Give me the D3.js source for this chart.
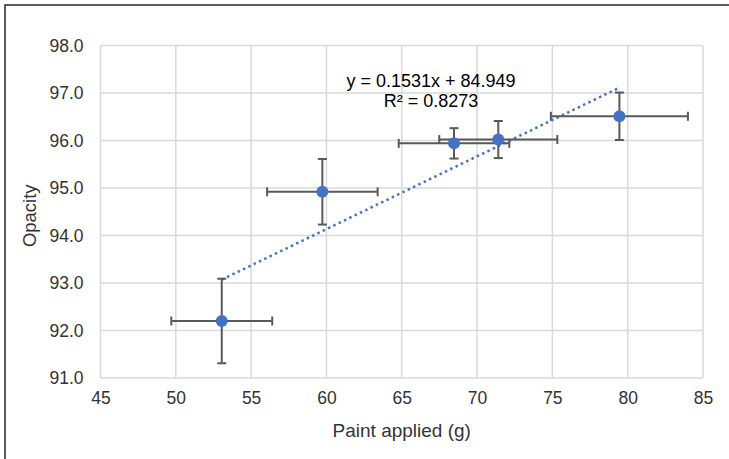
<!DOCTYPE html>
<html><head><meta charset="utf-8">
<script src="https://cdn.jsdelivr.net/npm/d3@7"></script>
<style>
html,body{margin:0;padding:0;background:#fff;}
svg{display:block;font-family:"Liberation Sans",Arial,sans-serif;}
</style></head>
<body>
<svg id="chart" width="729" height="459"></svg>
<script>
// Data
const paint = [53.05, 59.73, 68.47, 71.41, 79.45];     // x: Paint applied (g)
const opacity = [92.2, 94.92, 95.94, 96.02, 96.51];     // y: Opacity
const xErr = [3.35, 3.67, 3.67, 3.92, 4.55];
const yErr = [0.89, 0.69, 0.32, 0.39, 0.50];
const xTicks = [45, 50, 55, 60, 65, 70, 75, 80, 85];
const yTicks = [91, 92, 93, 94, 95, 96, 97, 98];
const trendSlope = 0.1531, trendIntercept = 84.949, rSquared = 0.8273;

const svg = d3.select("#chart");
const m = {left: 100.5, right: 729 - 703, top: 45.5, bottom: 459 - 378};
const W = 729, H = 459;
const textCol = "#333333";

// outer frame (left and top edges visible)
svg.append("rect").attr("x", 5).attr("y", 5).attr("width", 900).attr("height", 900)
  .attr("fill", "none").attr("stroke", "#262626").attr("stroke-width", 1.5);

const x = d3.scaleLinear().domain([45, 85]).range([m.left, W - m.right]);
const y = d3.scaleLinear().domain([91, 98]).range([H - m.bottom, m.top]);

const grid = svg.append("g");
grid.selectAll("line.v").data(xTicks).join("line")
  .attr("x1", d => x(d)).attr("x2", d => x(d))
  .attr("y1", y(91)).attr("y2", y(98))
  .attr("stroke", "#d9d9d9").attr("stroke-width", 1.5);
grid.selectAll("line.h").data(yTicks).join("line")
  .attr("y1", d => y(d)).attr("y2", d => y(d))
  .attr("x1", x(45)).attr("x2", x(85))
  .attr("stroke", "#d9d9d9").attr("stroke-width", 1.5);

// axes (labels only)
const xAxis = svg.append("g").attr("transform", `translate(0,${y(91)})`)
  .call(d3.axisBottom(x).tickValues(xTicks).tickSize(0).tickPadding(14).tickFormat(d3.format("d")));
xAxis.select(".domain").remove();
xAxis.selectAll("text").attr("font-size", 17.5).attr("fill", textCol)
  .attr("font-family", "'Liberation Sans',Arial,sans-serif");

const yAxis = svg.append("g").attr("transform", `translate(${x(45)},0)`)
  .call(d3.axisLeft(y).tickValues(yTicks).tickSize(0).tickPadding(17).tickFormat(d3.format(".1f")));
yAxis.select(".domain").remove();
yAxis.selectAll("text").attr("font-size", 17.5).attr("fill", textCol)
  .attr("font-family", "'Liberation Sans',Arial,sans-serif");

// axis titles
svg.append("text").attr("x", (x(45) + x(85)) / 2).attr("y", 437)
  .attr("text-anchor", "middle").attr("font-size", 19).attr("fill", textCol)
  .text("Paint applied (g)");
svg.append("text").attr("transform", `translate(36,${(y(91) + y(98)) / 2 + 4}) rotate(-90)`)
  .attr("text-anchor", "middle").attr("font-size", 18.5).attr("fill", textCol)
  .text("Opacity");

// trendline
const xmin = d3.min(paint), xmax = d3.max(paint);
svg.append("line")
  .attr("x1", x(xmin)).attr("y1", y(trendSlope * xmin + trendIntercept))
  .attr("x2", x(xmax)).attr("y2", y(trendSlope * xmax + trendIntercept))
  .attr("stroke", "#4472c4").attr("stroke-width", 2.5)
  .attr("stroke-dasharray", "2.5,3.4");

// error bars
const pts = paint.map((p, i) => ({x: p, y: opacity[i], ex: xErr[i], ey: yErr[i]}));
const eb = svg.append("g").attr("stroke", "#595959").attr("stroke-width", 2);
const cap = 4.5;
pts.forEach(d => {
  eb.append("line").attr("x1", x(d.x - d.ex)).attr("x2", x(d.x + d.ex)).attr("y1", y(d.y)).attr("y2", y(d.y));
  eb.append("line").attr("x1", x(d.x - d.ex)).attr("x2", x(d.x - d.ex)).attr("y1", y(d.y) - cap).attr("y2", y(d.y) + cap);
  eb.append("line").attr("x1", x(d.x + d.ex)).attr("x2", x(d.x + d.ex)).attr("y1", y(d.y) - cap).attr("y2", y(d.y) + cap);
  eb.append("line").attr("x1", x(d.x)).attr("x2", x(d.x)).attr("y1", y(d.y - d.ey)).attr("y2", y(d.y + d.ey));
  eb.append("line").attr("y1", y(d.y - d.ey)).attr("y2", y(d.y - d.ey)).attr("x1", x(d.x) - cap).attr("x2", x(d.x) + cap);
  eb.append("line").attr("y1", y(d.y + d.ey)).attr("y2", y(d.y + d.ey)).attr("x1", x(d.x) - cap).attr("x2", x(d.x) + cap);
});

// markers
svg.append("g").selectAll("circle").data(pts).join("circle")
  .attr("cx", d => x(d.x)).attr("cy", d => y(d.y)).attr("r", 6)
  .attr("fill", "#4472c4");

// trendline label
const lab = svg.append("text").attr("text-anchor", "middle").attr("font-size", 18).attr("fill", "#000");
lab.append("tspan").attr("x", 431).attr("y", 87).text(`y = ${trendSlope}x + ${trendIntercept}`);
lab.append("tspan").attr("x", 431).attr("y", 107).text(`R² = ${rSquared}`);
</script>
</body></html>
